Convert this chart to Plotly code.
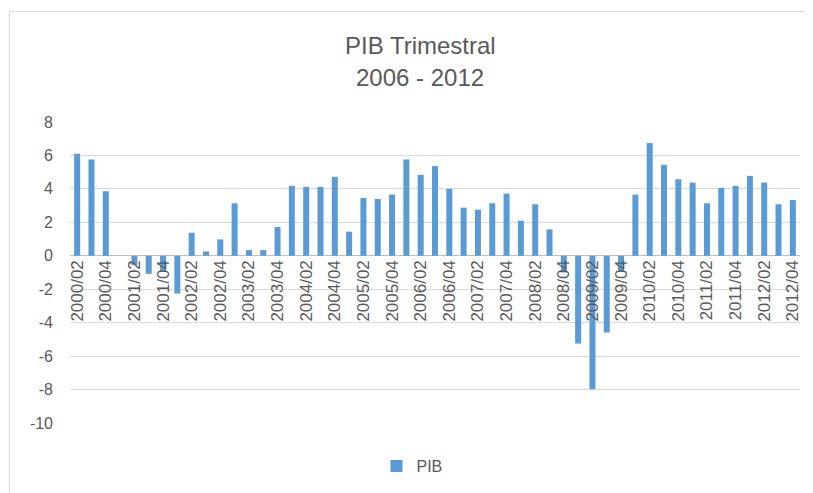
import plotly.graph_objects as go

quarters = [f"{y}/0{q}" for y in range(2000, 2013) for q in range(1, 5)][1:]
pib = [6.1, 5.76, 3.86,
       0.0, -0.56, -1.08, -0.9,
       -2.26, 1.38, 0.26, 0.98,
       3.14, 0.34, 0.34, 1.72,
       4.18, 4.12, 4.12, 4.72,
       1.44, 3.46, 3.4, 3.66,
       5.76, 4.84, 5.36, 4.0,
       2.88, 2.76, 3.14, 3.72,
       2.1, 3.08, 1.58, -1.0,
       -5.25, -7.98, -4.59, -0.94,
       3.66, 6.74, 5.44, 4.58,
       4.38, 3.14, 4.06, 4.18,
       4.78, 4.38, 3.08, 3.34]
tick_labels = [q for q in quarters if q.endswith("/02") or q.endswith("/04")]
y_ticks = [-10, -8, -6, -4, -2, 0, 2, 4, 6, 8]
y_tick_text = [str(v) for v in y_ticks]
title_lines = ["PIB Trimestral", "2006 - 2012"]

OFF = 8  # page body margin
W, H = 805, 485
L, R, T, B = 62, 13, 114, 70
pw, ph = W - L - R, H - T - B

def px_x(sx):
    return (sx - OFF - L) / pw

def px_y(sy):
    return (H - B - (sy - OFF)) / ph

gray = "#595959"
font = "Liberation Sans"

fig = go.Figure()
fig.add_trace(go.Bar(x=quarters, y=pib, name="PIB", marker_color="#5b9bd5",
                     marker_line_width=0))

zero_pos = (0 - (-10)) / 18

fig.update_layout(
    width=W, height=H,
    margin=dict(l=L, r=R, t=T, b=B, autoexpand=False),
    paper_bgcolor="white", plot_bgcolor="white",
    font=dict(family=font, color=gray),
    bargap=0.58,
    showlegend=True,
    legend=dict(orientation="h", x=px_x(412), xanchor="center",
                y=px_y(466), yanchor="middle",
                font=dict(size=16, color=gray, family=font)),
    xaxis=dict(type="category", categoryorder="array", categoryarray=quarters,
               tickmode="array", tickvals=tick_labels, ticktext=tick_labels,
               tickangle=-90, tickfont=dict(size=17, color=gray, family=font),
               showgrid=False, showline=False, ticks="",
               anchor="free", position=zero_pos, range=[-0.5, 50.5]),
    yaxis=dict(range=[-10, 8], tickmode="array", tickvals=y_ticks,
               ticktext=y_tick_text, showgrid=True,
               gridcolor="#d9d9d9", gridwidth=1,
               zeroline=True, zerolinecolor="#bfbfbf", zerolinewidth=1,
               tickfont=dict(size=16, color=gray, family=font),
               ticklabelstandoff=16,
               ticks="", showline=False),
)

for i, line in enumerate(title_lines):
    fig.add_annotation(text=line, xref="paper", yref="paper",
                       x=px_x(420), y=px_y([45, 78][i]),
                       xanchor="center", yanchor="middle", showarrow=False,
                       font=dict(size=24, color=gray, family=font))

fig.add_shape(type="rect", xref="paper", yref="paper",
              x0=px_x(9.5), x1=px_x(830), y0=px_y(510), y1=px_y(11.5),
              line=dict(color="#d9d9d9", width=1), fillcolor="rgba(0,0,0,0)",
              layer="below")

fig.write_html("out.html")
